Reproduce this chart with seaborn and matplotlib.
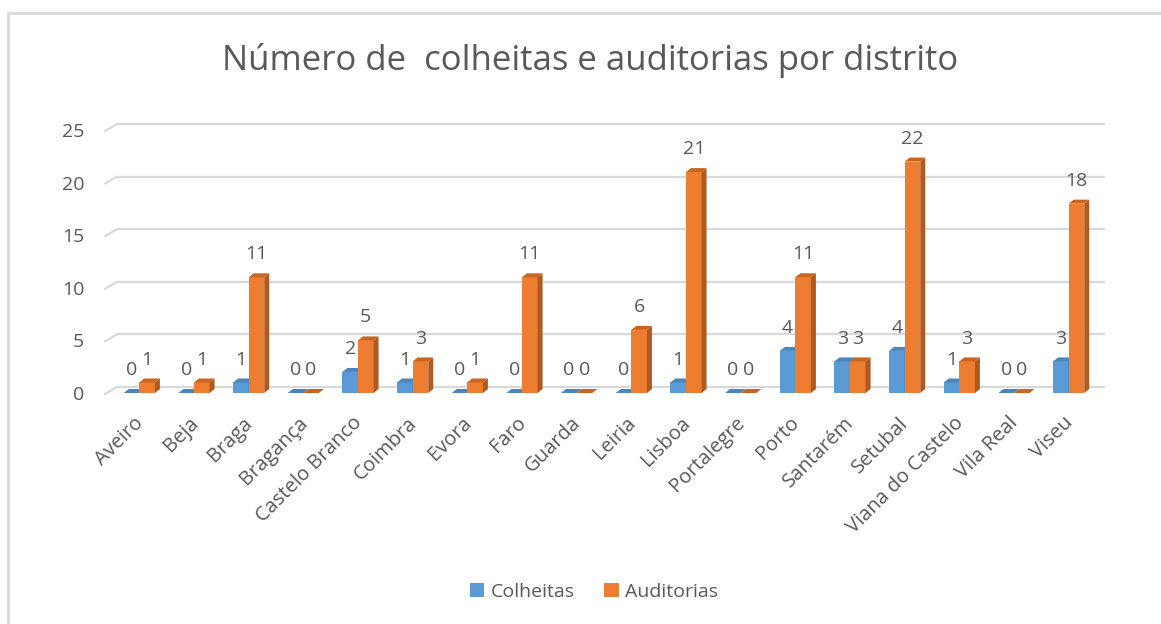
import numpy as np
import pandas as pd
import matplotlib
matplotlib.use("Agg")
import matplotlib.pyplot as plt
import seaborn as sns
from matplotlib.patches import Polygon, Patch
from matplotlib.lines import Line2D
from matplotlib.transforms import ScaledTranslation

distritos = ["Aveiro", "Beja", "Braga", "Bragança", "Castelo Branco", "Coimbra",
             "Evora", "Faro", "Guarda", "Leiria", "Lisboa", "Portalegre", "Porto",
             "Santarém", "Setubal", "Viana do Castelo", "Vila Real", "Viseu"]
colheitas = [0, 0, 1, 0, 2, 1, 0, 0, 0, 0, 1, 0, 4, 3, 4, 1, 0, 3]
auditorias = [1, 1, 11, 0, 5, 3, 1, 11, 0, 6, 21, 0, 11, 3, 22, 3, 0, 18]
series = ["Colheitas", "Auditorias"]
y_ticks = [0, 5, 10, 15, 20, 25]
title = "Número de  colheitas e auditorias por distrito"

df = pd.DataFrame({
    "Distrito": distritos * 2,
    "Serie": [series[0]] * len(distritos) + [series[1]] * len(distritos),
    "Valor": colheitas + auditorias,
})

FONT = "Open Sans"
TXT = "#595959"
GRID = "#D9D9D9"
front_cols = {"Colheitas": "#5B9BD5", "Auditorias": "#ED7D31"}
side_cols = {"Colheitas": "#41719C", "Auditorias": "#AE5A21"}
top_cols = {"Colheitas": "#4A86BC", "Auditorias": "#C9651F"}

W, H, DPI = 11.61, 6.24, 100
sns.set_style("white")
plt.rcParams["font.family"] = [FONT, "DejaVu Sans"]
fig = plt.figure(figsize=(W, H), dpi=DPI)

# axes placement in pixels
L, R, B, T = 112, 1096, 393, 130
ax = fig.add_axes([L / 1161, 1 - B / 624, (R - L) / 1161, (B - T) / 624])

sns.barplot(data=df, x="Distrito", y="Valor", hue="Serie", hue_order=series,
            palette=front_cols, width=0.57, dodge=True, saturation=1,
            legend=False, ax=ax, linewidth=0)
n = len(distritos)
ax.set_xlim(-0.5, n - 0.5)
ax.set_ylim(0, 25)
for s in ax.spines.values():
    s.set_visible(False)

# pixel -> data scales
px_x = n / (R - L)
px_y = 25 / (B - T)
dx, dy = 5 * px_x, 4 * px_y

# back-wall gridlines with perspective offset
for t in y_ticks:
    yb = t + 6 * px_y
    ax.plot([-0.5 + 5 * px_x, n - 0.5 + 9 * px_x], [yb, yb], color=GRID, lw=1.6,
            clip_on=False, zorder=1, solid_capstyle="butt")
    ax.plot([-0.5 - 7 * px_x, -0.5 + 5 * px_x], [t - 1 * px_y, yb], color=GRID,
            lw=1.6, clip_on=False, zorder=1)

# 3D faces for bars
for si, (cont, name) in enumerate(zip(ax.containers, series)):
    for i, bar in enumerate(cont.patches):
        x0 = bar.get_x()
        w = bar.get_width()
        h = bar.get_height()
        x1 = x0 + w
        z = 3 + i * 2 + si
        bar.set_zorder(z)
        bar.set_facecolor(front_cols[name])
        side = Polygon([(x1, 0), (x1 + dx, dy), (x1 + dx, h + dy), (x1, h)],
                       closed=True, facecolor=side_cols[name], edgecolor="none",
                       zorder=z, clip_on=False)
        top = Polygon([(x0, h), (x0 + dx, h + dy), (x1 + dx, h + dy), (x1, h)],
                      closed=True, facecolor=top_cols[name], edgecolor="none",
                      zorder=z, clip_on=False)
        ax.add_patch(side)
        ax.add_patch(top)
        ax.annotate(f"{int(h)}", (x0 + w / 2, h), xytext=(0, 16.5),
                    textcoords="offset points", ha="center", va="center",
                    fontsize=14, color=TXT, zorder=50, annotation_clip=False)

ax.set_xlabel("")
ax.set_ylabel("")
ax.set_yticks(y_ticks)
ax.set_yticklabels([str(t) for t in y_ticks], fontsize=14, color=TXT)
ax.tick_params(axis="y", length=0, pad=20)
ax.tick_params(axis="x", length=0, pad=8)
ax.set_xticks(range(n))
ax.set_xticklabels(distritos, rotation=45, ha="right", rotation_mode="anchor",
                   fontsize=14.5, color=TXT)
shift = ScaledTranslation(-6 / DPI, -9 / DPI, fig.dpi_scale_trans)
for lab in ax.get_xticklabels():
    lab.set_transform(lab.get_transform() + shift)

fig.text(590 / 1161, 1 - 60 / 624, title, ha="center", va="center",
         fontsize=25, color=TXT)

handles = [Patch(facecolor=front_cols[s], edgecolor="none") for s in series]
fig.legend(handles, series, loc="center", bbox_to_anchor=(594 / 1161, 1 - 592 / 624),
           ncol=2, frameon=False, fontsize=14, labelcolor=TXT, handlelength=0.75,
           handleheight=0.75, handletextpad=0.35, columnspacing=1.5)

# outer chart border (top and left)
fig.add_artist(Line2D([8 / 1161, 1], [1 - 13 / 624, 1 - 13 / 624],
                      transform=fig.transFigure, color=GRID, lw=2))
fig.add_artist(Line2D([8 / 1161, 8 / 1161], [0, 1 - 13 / 624],
                      transform=fig.transFigure, color=GRID, lw=2))

fig.savefig("out.png", dpi=DPI, facecolor="white")
